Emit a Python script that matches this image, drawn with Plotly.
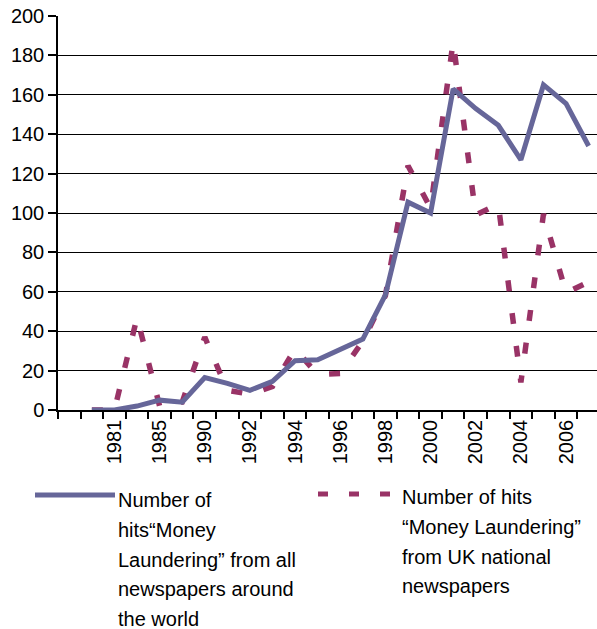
import plotly.graph_objects as go

# ---- data ----
categories = ["", "1980", "1981", "1983", "1985", "1988", "1990", "1991", "1992", "1993",
              "1994", "1995", "1996", "1997", "1998", "1999", "2000", "2001", "2002",
              "2003", "2004", "2005", "2006", "2007"]
world_hits = [None, 0, 0, 2, 5, 4, 16.5, 13.5, 10, 14.5, 25, 25.5, 30.5, 36, 58.5,
              105.5, 100, 163, 153, 144.5, 127, 165, 155.5, 134]
uk_hits = [None, 0, 0, 47, 2, 4, 37, 10, 8, 12, 31, 18, 18.5, 35, 58, 124, 102.5,
           187, 99, 104.5, 14, 99.5, 59.5, 65]
world_label_lines = ["Number of", "hits\u201cMoney", "Laundering\u201d from all",
                     "newspapers around", "the world"]
uk_label_lines = ["Number of hits", "\u201cMoney Laundering\u201d", "from UK national",
                  "newspapers"]

SOLID_COLOR = "#666699"
DASH_COLOR = "#993366"
FONT = "Liberation Sans, Arial, Helvetica, sans-serif"
FS = 20

W, H = 597, 629
L, R, T, B = 58, 0, 16, 219
PW, PH = W - L - R, H - T - B


def px_x(px):
    return (px - L) / PW


def px_y(py):
    return (H - B - py) / PH


x_idx = list(range(len(categories)))

fig = go.Figure()
fig.add_trace(go.Scatter(
    x=x_idx, y=uk_hits, mode="lines", name=" ".join(uk_label_lines),
    line=dict(color=DASH_COLOR, width=5.5, dash="11px,22px"), cliponaxis=False))
fig.add_trace(go.Scatter(
    x=x_idx, y=world_hits, mode="lines", name=" ".join(world_label_lines),
    line=dict(color=SOLID_COLOR, width=5), cliponaxis=False))

# legend drawn with shapes + text lines
annotations = []
for i, t in enumerate(world_label_lines):
    annotations.append(dict(text=t, x=px_x(116), y=px_y(500 + 29.8 * i), xref="paper",
                            yref="paper", xanchor="left", yanchor="middle", showarrow=False,
                            font=dict(size=FS, color="black", family=FONT)))
for i, t in enumerate(uk_label_lines):
    annotations.append(dict(text=t, x=px_x(400), y=px_y(497 + 29.8 * i), xref="paper",
                            yref="paper", xanchor="left", yanchor="middle", showarrow=False,
                            font=dict(size=FS, color="black", family=FONT)))

shapes = [
    dict(type="line", xref="paper", yref="paper", x0=px_x(35), x1=px_x(115),
         y0=px_y(495), y1=px_y(495), line=dict(color=SOLID_COLOR, width=5)),
    dict(type="line", xref="paper", yref="paper", x0=px_x(318), x1=px_x(390),
         y0=px_y(494), y1=px_y(494), line=dict(color=DASH_COLOR, width=5, dash="10px,21px")),
]

fig.update_layout(
    width=W, height=H, margin=dict(l=L, r=R, t=T, b=B),
    paper_bgcolor="white", plot_bgcolor="white",
    showlegend=False,
    font=dict(family=FONT, size=FS, color="black"),
    annotations=annotations, shapes=shapes,
    xaxis=dict(
        range=[-0.5, -0.5 + PW / 22.58],
        tickvals=x_idx[::2], ticktext=categories[::2], tickangle=-90,
        ticks="", ticklen=0, showgrid=False, zeroline=False,
        showline=True, linecolor="black", linewidth=1.5,
        tickfont=dict(size=FS, color="black", family=FONT),
        minor=dict(tick0=-0.5, dtick=1, ticks="outside", ticklen=7, tickcolor="black",
                   tickwidth=1.5, showgrid=False),
    ),
    yaxis=dict(
        range=[0, 200], tickvals=list(range(0, 201, 20)),
        ticks="outside", ticklen=8, tickcolor="black", tickwidth=1.5,
        showgrid=True, gridcolor="black", gridwidth=1, zeroline=False,
        showline=True, linecolor="black", linewidth=1.5,
        tickfont=dict(size=FS, color="black", family=FONT),
    ),
)

fig.write_html("out.html", config={"displayModeBar": False},
               post_script="document.body.style.margin='0';")
